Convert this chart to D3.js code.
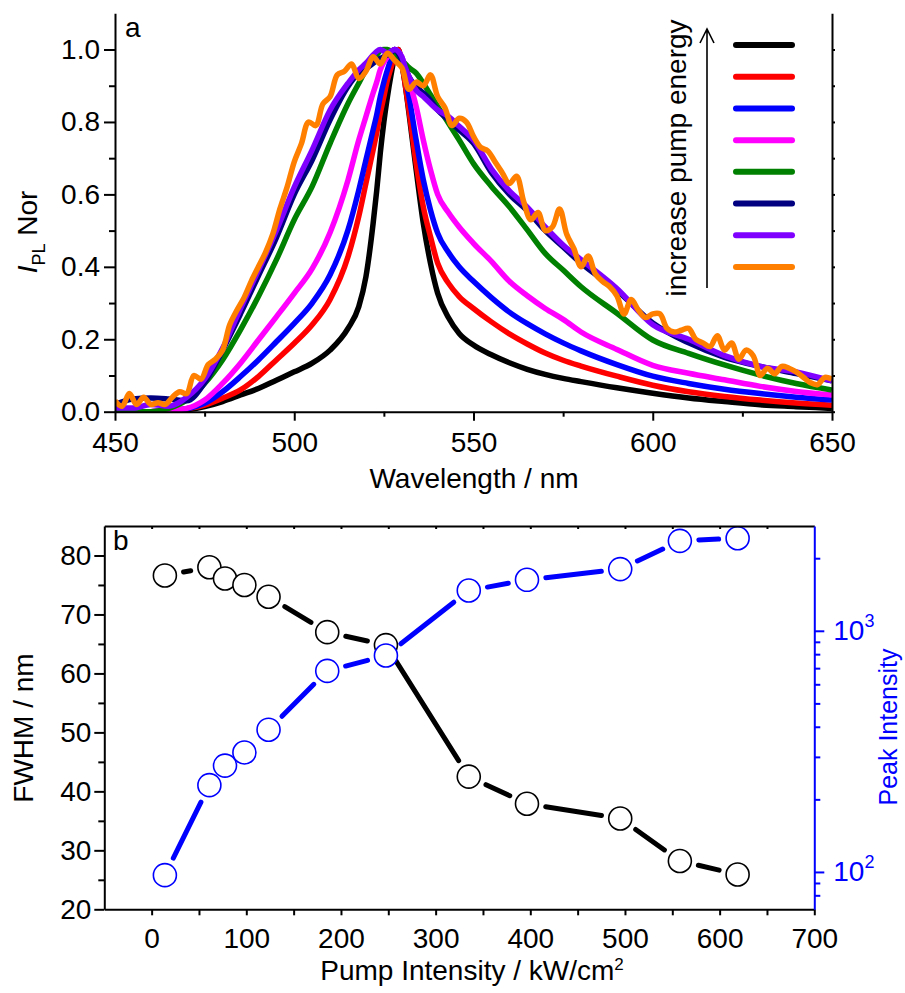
<!DOCTYPE html>
<html>
<head>
<meta charset="utf-8">
<script src="https://cdn.jsdelivr.net/npm/d3@7"></script>
<style>
body { margin: 0; background: #fff; }
svg { display: block; }
</style>
</head>
<body>
<script>
// ---- DATA (panel a: normalised PL spectra) ----
const wavelength = [450,455,460,465,470,475,480,485,490,495,500,505,510,515,518,520,522,523,524,525,526,527,528,529,530,531,532,534,536,538,540,543,546,550,555,560,565,570,575,580,590,600,610,620,630,640,650];
const spBlack   = [0,0,0,0.001,0.005,0.014,0.028,0.046,0.064,0.087,0.11,0.134,0.17,0.23,0.29,0.373,0.52,0.61,0.714,0.80,0.87,0.93,0.98,1.0,0.96,0.90,0.824,0.668,0.52,0.41,0.327,0.26,0.216,0.184,0.157,0.135,0.117,0.103,0.092,0.083,0.066,0.051,0.038,0.028,0.019,0.014,0.009];
const spRed     = [0,0,0,0.003,0.008,0.018,0.037,0.06,0.097,0.143,0.189,0.24,0.31,0.428,0.539,0.631,0.723,0.77,0.824,0.87,0.916,0.95,0.98,1.0,0.962,0.90,0.833,0.686,0.566,0.483,0.41,0.355,0.318,0.285,0.248,0.215,0.187,0.162,0.142,0.126,0.098,0.073,0.055,0.042,0.032,0.024,0.018];
const spBlue    = [0,0,0,0.003,0.008,0.023,0.055,0.097,0.143,0.193,0.244,0.30,0.378,0.502,0.612,0.695,0.778,0.82,0.87,0.91,0.944,0.975,1.0,0.99,0.962,0.92,0.87,0.75,0.64,0.557,0.493,0.44,0.40,0.36,0.315,0.275,0.243,0.215,0.19,0.168,0.13,0.098,0.078,0.062,0.05,0.04,0.032];
const spMagenta = [0,0,0,0.003,0.009,0.032,0.078,0.134,0.198,0.262,0.327,0.395,0.495,0.64,0.75,0.815,0.88,0.91,0.944,0.965,0.98,0.993,1.0,0.995,0.98,0.95,0.916,0.843,0.75,0.668,0.60,0.55,0.51,0.465,0.415,0.36,0.32,0.285,0.255,0.22,0.172,0.128,0.106,0.088,0.07,0.056,0.046];
const spGreen   = [0,0,0,0.009,0.032,0.078,0.143,0.226,0.318,0.419,0.53,0.622,0.741,0.851,0.907,0.944,0.97,0.985,0.997,1.0,1.0,0.995,0.99,0.98,0.97,0.96,0.95,0.935,0.907,0.875,0.843,0.797,0.75,0.685,0.622,0.566,0.502,0.437,0.391,0.345,0.272,0.198,0.161,0.129,0.101,0.078,0.06];
const spNavy    = [0.02,0.035,0.038,0.035,0.03,0.08,0.17,0.27,0.375,0.48,0.60,0.695,0.806,0.898,0.935,0.948,0.962,0.97,0.975,0.98,0.985,0.99,1.0,0.99,0.97,0.95,0.925,0.898,0.88,0.86,0.833,0.806,0.778,0.741,0.66,0.60,0.555,0.50,0.455,0.41,0.335,0.245,0.19,0.15,0.125,0.105,0.085];
const spViolet  = [0.01,0.01,0.02,0.015,0.04,0.09,0.175,0.285,0.39,0.50,0.62,0.723,0.833,0.907,0.944,0.962,0.985,0.995,1.0,0.995,0.99,0.995,1.0,0.995,0.98,0.95,0.925,0.888,0.87,0.851,0.833,0.815,0.788,0.75,0.67,0.61,0.565,0.51,0.46,0.42,0.34,0.24,0.2,0.155,0.125,0.11,0.085];
// noisiest spectrum, sampled finer
const orangeWavelength = [450,452,454,456,458,460,462,464,466,468,470,472,474,476,478,480,482,484,486,488,490,492,494,496,498,500,502,504,506,508,510,512,514,516,518,520,522,524,526,528,530,532,534,536,538,540,542,544,546,548,550,552,554,556,558,560,562,564,566,568,570,572,574,576,578,580,582,584,586,588,590,592,594,596,598,600,602,604,606,608,610,612,614,616,618,620,622,624,626,628,630,632,634,636,638,640,642,644,646,648,650];
const spOrange  = [0.03,0.015,0.05,0.02,0.04,0.02,0.025,0.02,0.04,0.055,
                   0.05,0.1,0.09,0.13,0.145,0.17,0.24,0.28,0.315,0.36,
                   0.40,0.44,0.49,0.56,0.62,0.69,0.74,0.80,0.79,0.85,
                   0.87,0.93,0.94,0.96,0.92,0.94,0.98,0.96,0.99,0.97,
                   0.95,0.89,0.91,0.90,0.93,0.87,0.84,0.79,0.81,0.80,
                   0.76,0.73,0.72,0.69,0.66,0.63,0.65,0.58,0.53,0.55,
                   0.50,0.51,0.56,0.49,0.45,0.40,0.43,0.38,0.36,0.345,
                   0.32,0.27,0.31,0.28,0.26,0.27,0.27,0.23,0.22,0.225,
                   0.23,0.20,0.19,0.18,0.21,0.17,0.19,0.145,0.17,0.155,
                   0.10,0.12,0.105,0.125,0.12,0.11,0.095,0.08,0.075,0.095,
                   0.09];
const spectraColors = ["#000000","#ff0000","#0000ff","#ff00ff","#008000","#000080","#8000ff","#ff8000"];

const xTicksA = [450,500,550,600,650];
const xMinorA = [475,525,575,625];
const yTicksA = [0,0.2,0.4,0.6,0.8,1.0];
const yMinorA = [0.1,0.3,0.5,0.7,0.9];
const yRightA = [0,0.1,0.2,0.3,0.4,0.5,0.6,0.7,0.8,0.9,1.0];

// ---- DATA (panel b) ----
const pumpIntensity = [14,61,77.5,98,123.5,185.5,247.5,335,396.5,495,558,619];
const fwhm          = [76.6,78.0,76.1,75.0,73.0,67.0,64.8,42.5,37.9,35.4,28.2,25.9];
const peakIntensity = [97,229,276,313,389,682,790,1469,1627,1802,2360,2420];

const xTicksB = [0,100,200,300,400,500,600,700];
const xMinorB = [50,150,250,350,450,550,650];
const xTopB   = [0,50,100,150,200,250,300,350,400,450,500,550,600,650];
const yTicksB = [20,30,40,50,60,70,80];
const yMinorB = [25,35,45,55,65,75];
const yLogTicks = [100,1000];
const yLogMinor = [80,90,200,300,400,500,600,700,800,900,2000];

const FONT = "'Liberation Sans', Arial, Helvetica, sans-serif";

let svg = d3.select("body")
	.append("svg")
		.attr("width", 905)
		.attr("height", 993)
		.attr("font-family", FONT)

function styleAxis(g, color) {
	g.attr("font-size", 28).attr("font-family", FONT)
	g.select(".domain").attr("stroke", color).attr("stroke-width", 2)
	g.selectAll(".tick line").attr("stroke", color).attr("stroke-width", 2)
	g.selectAll(".tick text").attr("fill", color)
}
function minorAxis(g, color) {
	g.select(".domain").remove()
	g.selectAll(".tick line").attr("stroke", color).attr("stroke-width", 2)
}

// ================= PANEL A =================
const xA = d3.scaleLinear().domain([450, 650]).range([115, 832]);
const yA = d3.scaleLinear().domain([0, 1.1]).range([411.7, 13.3]);

svg.append("defs").append("clipPath").attr("id", "clipA")
	.append("rect").attr("x", 115).attr("y", 13).attr("width", 717).attr("height", 400)

let spectra = [spBlack, spRed, spBlue, spMagenta, spGreen, spNavy, spViolet];
let smoothLine = d3.line()
	.x((d, i) => xA(wavelength[i]))
	.y(d => yA(d))
	.curve(d3.curveMonotoneX)

let curves = svg.append("g").attr("clip-path", "url(#clipA)")
curves.selectAll("path.spec")
	.data(spectra)
	.enter()
	.append("path")
		.attr("class", "spec")
		.attr("d", smoothLine)
		.attr("fill", "none")
		.attr("stroke", (d, i) => spectraColors[i])
		.attr("stroke-width", 5.5)
		.attr("stroke-linejoin", "round")

let noisyLine = d3.line()
	.x((d, i) => xA(orangeWavelength[i]))
	.y(d => yA(d))
	.curve(d3.curveCatmullRom.alpha(0.5))
curves.append("path")
	.datum(spOrange)
	.attr("d", noisyLine)
	.attr("fill", "none")
	.attr("stroke", spectraColors[7])
	.attr("stroke-width", 5.5)
	.attr("stroke-linejoin", "round")

// axes
svg.append("g").attr("transform", "translate(0,411.7)")
	.call(d3.axisBottom(xA).tickValues(xMinorA).tickSize(5).tickFormat(""))
	.call(minorAxis, "#000")
svg.append("g").attr("transform", "translate(0,411.7)")
	.call(d3.axisBottom(xA).tickValues(xTicksA).tickSize(9).tickPadding(11).tickSizeOuter(0))
	.call(styleAxis, "#000")
svg.append("g").attr("transform", "translate(115,0)")
	.call(d3.axisLeft(yA).tickValues(yMinorA).tickSize(6).tickFormat(""))
	.call(minorAxis, "#000")
svg.append("g").attr("transform", "translate(115,0)")
	.call(d3.axisLeft(yA).tickValues(yTicksA).tickSize(11).tickPadding(4).tickSizeOuter(0).tickFormat(d3.format(".1f")))
	.call(styleAxis, "#000")
svg.append("g").attr("transform", "translate(832,0)")
	.call(d3.axisRight(yA).tickValues(yRightA).tickSize(3).tickSizeOuter(0).tickFormat(""))
	.call(styleAxis, "#000")

svg.append("text").attr("x", 125).attr("y", 37).attr("font-size", 28).text("a")

svg.append("text")
	.attr("x", 474).attr("y", 488)
	.attr("text-anchor", "middle").attr("font-size", 28)
	.text("Wavelength / nm")

let yLabA = svg.append("text")
	.attr("transform", "translate(37,232) rotate(-90)")
	.attr("text-anchor", "middle").attr("font-size", 28)
yLabA.append("tspan").attr("font-style", "italic").text("I")
yLabA.append("tspan").attr("font-size", 18).attr("dy", 8).text("PL")
yLabA.append("tspan").attr("dy", -8).text(" Nor")

// LEGEND
let legendY = d3.scalePoint().domain(d3.range(spectraColors.length)).range([45, 267]);
svg.append("g").selectAll("line")
	.data(spectraColors)
	.enter()
	.append("line")
		.attr("x1", 736).attr("x2", 792)
		.attr("y1", (d, i) => legendY(i)).attr("y2", (d, i) => legendY(i))
		.attr("stroke", d => d)
		.attr("stroke-width", 6)
		.attr("stroke-linecap", "round")

svg.append("text")
	.attr("transform", "translate(686,158) rotate(-90)")
	.attr("text-anchor", "middle").attr("font-size", 28)
	.text("increase pump energy")
svg.append("path")
	.attr("d", "M707,288V29M700,43L707,29L714,43")
	.attr("fill", "none").attr("stroke", "#000").attr("stroke-width", 1.6)

// ================= PANEL B =================
const xB = d3.scaleLinear().domain([-50, 700]).range([104.3, 814.3]);
const yB = d3.scaleLinear().domain([20, 85]).range([909.3, 526]);
const yB2 = d3.scaleLog().domain([70, 2720]).range([909.3, 526]);

function gappedSegments(pts, gap) {
	let segs = [];
	for (let i = 0; i < pts.length - 1; i++) {
		let [x1, y1] = pts[i], [x2, y2] = pts[i + 1];
		let len = Math.hypot(x2 - x1, y2 - y1);
		if (len <= 2 * gap) continue;
		let ux = (x2 - x1) / len, uy = (y2 - y1) / len;
		segs.push([x1 + ux * gap, y1 + uy * gap, x2 - ux * gap, y2 - uy * gap]);
	}
	return segs;
}

function drawSeries(values, yScale, color) {
	let pts = pumpIntensity.map((p, i) => [xB(p), yScale(values[i])]);
	let g = svg.append("g")
	g.selectAll("line")
		.data(gappedSegments(pts, 19))
		.enter()
		.append("line")
			.attr("x1", d => d[0]).attr("y1", d => d[1])
			.attr("x2", d => d[2]).attr("y2", d => d[3])
			.attr("stroke", color)
			.attr("stroke-width", 5)
			.attr("stroke-linecap", "round")
	g.selectAll("circle")
		.data(pts)
		.enter()
		.append("circle")
			.attr("cx", d => d[0]).attr("cy", d => d[1])
			.attr("r", 11.5)
			.attr("fill", "#fff")
			.attr("stroke", color)
			.attr("stroke-width", 1.6)
}
drawSeries(fwhm, yB, "#000");
drawSeries(peakIntensity, yB2, "#0000ff");

// axes
svg.append("g").attr("transform", "translate(0,909.3)")
	.call(d3.axisBottom(xB).tickValues(xMinorB).tickSize(6).tickFormat(""))
	.call(minorAxis, "#000")
svg.append("g").attr("transform", "translate(0,909.3)")
	.call(d3.axisBottom(xB).tickValues(xTicksB).tickSize(6).tickPadding(13).tickSizeOuter(0))
	.call(styleAxis, "#000")
svg.append("g").attr("transform", "translate(0,526)")
	.call(d3.axisBottom(xB).tickValues(xTopB).tickSize(3).tickSizeOuter(0).tickFormat(""))
	.call(styleAxis, "#000")
svg.append("g").attr("transform", "translate(104.3,0)")
	.call(d3.axisLeft(yB).tickValues(yMinorB).tickSize(6).tickFormat(""))
	.call(minorAxis, "#000")
svg.append("g").attr("transform", "translate(104.3,0)")
	.call(d3.axisLeft(yB).tickValues(yTicksB).tickSize(10).tickPadding(3).tickSizeOuter(0))
	.call(styleAxis, "#000")

svg.append("g").attr("transform", "translate(814.3,0)")
	.call(d3.axisRight(yB2).tickValues(yLogMinor).tickSize(6).tickFormat(""))
	.call(minorAxis, "#0000ff")
let logAxis = svg.append("g").attr("transform", "translate(814.3,0)")
	.call(d3.axisRight(yB2).tickValues(yLogTicks).tickSize(10).tickPadding(9).tickSizeOuter(0).tickFormat(""))
	.call(styleAxis, "#0000ff")
logAxis.selectAll(".tick text").each(function(d) {
	let t = d3.select(this)
	t.append("tspan").text("10")
	t.append("tspan").attr("font-size", 18).attr("dy", -13).text(Math.round(Math.log10(d)))
})

svg.append("text").attr("x", 113).attr("y", 550).attr("font-size", 28).text("b")

let xLabB = svg.append("text")
	.attr("x", 472).attr("y", 980)
	.attr("text-anchor", "middle").attr("font-size", 28)
xLabB.append("tspan").text("Pump Intensity / kW/cm")
xLabB.append("tspan").attr("font-size", 17).attr("dy", -10).text("2")

svg.append("text")
	.attr("transform", "translate(33,728) rotate(-90)")
	.attr("text-anchor", "middle").attr("font-size", 28)
	.text("FWHM / nm")

svg.append("text")
	.attr("transform", "translate(897,727) rotate(-90)")
	.attr("text-anchor", "middle").attr("font-size", 25)
	.attr("fill", "#0000ff")
	.text("Peak Intensity")
</script>
</body>
</html>
